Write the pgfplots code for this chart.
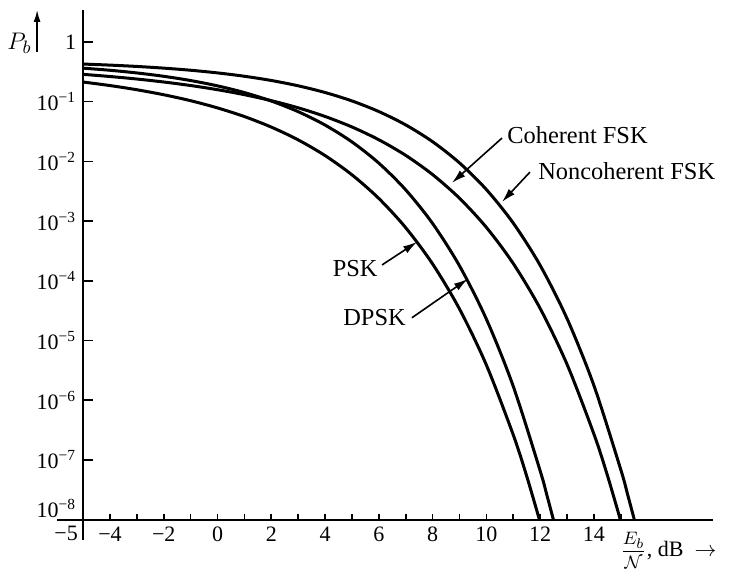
\documentclass[border=0pt]{standalone}
\usepackage{fontspec}
\setmainfont{Liberation Serif}
\usepackage{pgfplots}
\pgfplotsset{compat=1.18}
\usetikzlibrary{arrows.meta}

\newcommand{\lab}{\fontsize{11}{13}\selectfont}
\newcommand{\ann}{\fontsize{12.2}{14}\selectfont}

\begin{document}
\begin{tikzpicture}
\begin{axis}[
    scale only axis,
    width=314.9pt, height=254.8pt,
    ymode=log,
    xmin=-5, xmax=18.42,
    ymin=1e-8, ymax=3.436,
    axis x line*=bottom, axis y line*=left,
    axis line style={line width=1pt},
    enlargelimits=false,
    clip=false,
    xtick={-4,-2,...,14},
    xticklabels={−4,−2,0,2,4,6,8,10,12,14},
    minor xtick={-3,-1,...,15},
    ytick={1e-7,1e-6,1e-5,1e-4,1e-3,1e-2,1e-1,1},
    yticklabels={10\textsuperscript{−7},10\textsuperscript{−6},10\textsuperscript{−5},10\textsuperscript{−4},10\textsuperscript{−3},10\textsuperscript{−2},10\textsuperscript{−1},1},
    yminorticks=false,
    tick align=inside,
    major tick length=3pt, minor tick length=3pt,
    ytick style={/pgfplots/major tick length=5pt},
    tick style={line width=0.8pt, black},
    tick label style={font=\lab},
]
% keep the page the size of the reference
\path (axis cs:-8.09,5.05) rectangle (axis cs:19.06,1.276e-9);

% PSK
\addplot[line width=1.5pt, smooth] coordinates {
    (-5,0.2133) (-4,0.1862) (-3,0.1584) (-2,0.1306) (-1,0.1038) (0,0.0786)
    (1,0.0563) (2,0.0375) (3,0.0229) (4,0.0125) (5,0.00595) (6,0.00239)
    (7,7.73e-4) (8,1.91e-4) (9,3.36e-5) (10,3.87e-6) (11,2.61e-7)
    (11.5,5.31e-8) (11.97,1e-8)
};
% DPSK
\addplot[line width=1.5pt, smooth] coordinates {
    (-5,0.3644) (-4,0.3358) (-3,0.3029) (-2,0.2661) (-1,0.2260) (0,0.1839)
    (1,0.1420) (2,0.1025) (3,0.0680) (4,0.04056) (5,0.02117) (6,0.009333)
    (7,0.003327) (8,9.09e-4) (9,1.776e-4) (10,2.27e-5) (11,1.70e-6)
    (12,6.53e-8) (12.25,2.56e-8) (12.49,1e-8)
};
% coherent FSK
\addplot[line width=1.5pt, smooth] coordinates {
    (-5,0.2870) (-4,0.2640) (-3,0.2395) (-2,0.2135) (-1,0.1864) (0,0.1587)
    (1,0.1309) (2,0.1040) (3,0.0789) (4,0.0565) (5,0.0377) (6,0.0230)
    (7,0.01259) (8,0.00600) (9,0.00241) (10,7.83e-4) (11,1.94e-4)
    (12,3.43e-5) (13,3.97e-6) (14,2.69e-7) (14.5,5.5e-8) (14.98,1e-8)
};
% noncoherent FSK
\addplot[line width=1.5pt, smooth] coordinates {
    (-5,0.4269) (-4,0.4097) (-3,0.3892) (-2,0.3647) (-1,0.3361) (0,0.3033)
    (1,0.2665) (2,0.2264) (3,0.1844) (4,0.1424) (5,0.1029) (6,0.0683)
    (7,0.04079) (8,0.02132) (9,0.00942) (10,0.003369) (11,9.23e-4)
    (12,1.81e-4) (13,2.32e-5) (14,1.75e-6) (15,6.8e-8) (15.25,2.65e-8)
    (15.5,1e-8)
};

% axis lines run past the corner
\draw[line width=1pt] (axis cs:-5.97,1e-8) -- (axis cs:-5,1e-8);
\draw[line width=1pt] (axis cs:-5,1e-8) -- (axis cs:-5,4.57e-9);

% extra labels
\node[anchor=north, font=\lab] at (axis cs:-5.63,1e-8) {−5};
\node[anchor=east, font=\lab] at (axis cs:-5,1.549e-8) {10\textsuperscript{−8}};
\node[anchor=west, inner sep=0pt, yshift=-15.5pt, font=\lab] at (axis cs:14.97,1e-8)
    {{\fontsize{9.5}{11}\selectfont$\displaystyle\frac{E_b}{\mathcal{N}}$}, dB \ $\rightarrow$};
\node[anchor=east, inner sep=1pt, font=\ann] at (axis cs:-6.83,0.955) {$P_b$};
\draw[line width=0.8pt, -{Latex[length=6pt,width=3.5pt]}] (axis cs:-6.71,0.676) -- (axis cs:-6.71,3.436);

% curve names
\node[anchor=east, inner sep=1pt, font=\ann] at (axis cs:6.04,1.622e-4) {PSK};
\draw[line width=0.8pt, -{Latex[length=7pt,width=4pt]}] (axis cs:6.12,1.841e-4) -- (axis cs:7.42,4.467e-4);
\node[anchor=east, inner sep=1pt, font=\ann] at (axis cs:7.09,2.399e-5) {DPSK};
\draw[line width=0.8pt, -{Latex[length=7pt,width=4pt]}] (axis cs:7.23,2.399e-5) -- (axis cs:9.31,1.072e-4);
\node[anchor=west, inner sep=1pt, font=\ann] at (axis cs:10.69,0.02754) {Coherent FSK};
\draw[line width=0.8pt, -{Latex[length=7pt,width=4pt]}] (axis cs:10.58,0.02455) -- (axis cs:8.72,0.004365);
\node[anchor=west, inner sep=1pt, font=\ann] at (axis cs:11.84,0.006918) {Noncoherent FSK};
\draw[line width=0.8pt, -{Latex[length=7pt,width=4pt]}] (axis cs:11.62,0.006607) -- (axis cs:10.58,0.002089);
\end{axis}
\end{tikzpicture}
\end{document}
